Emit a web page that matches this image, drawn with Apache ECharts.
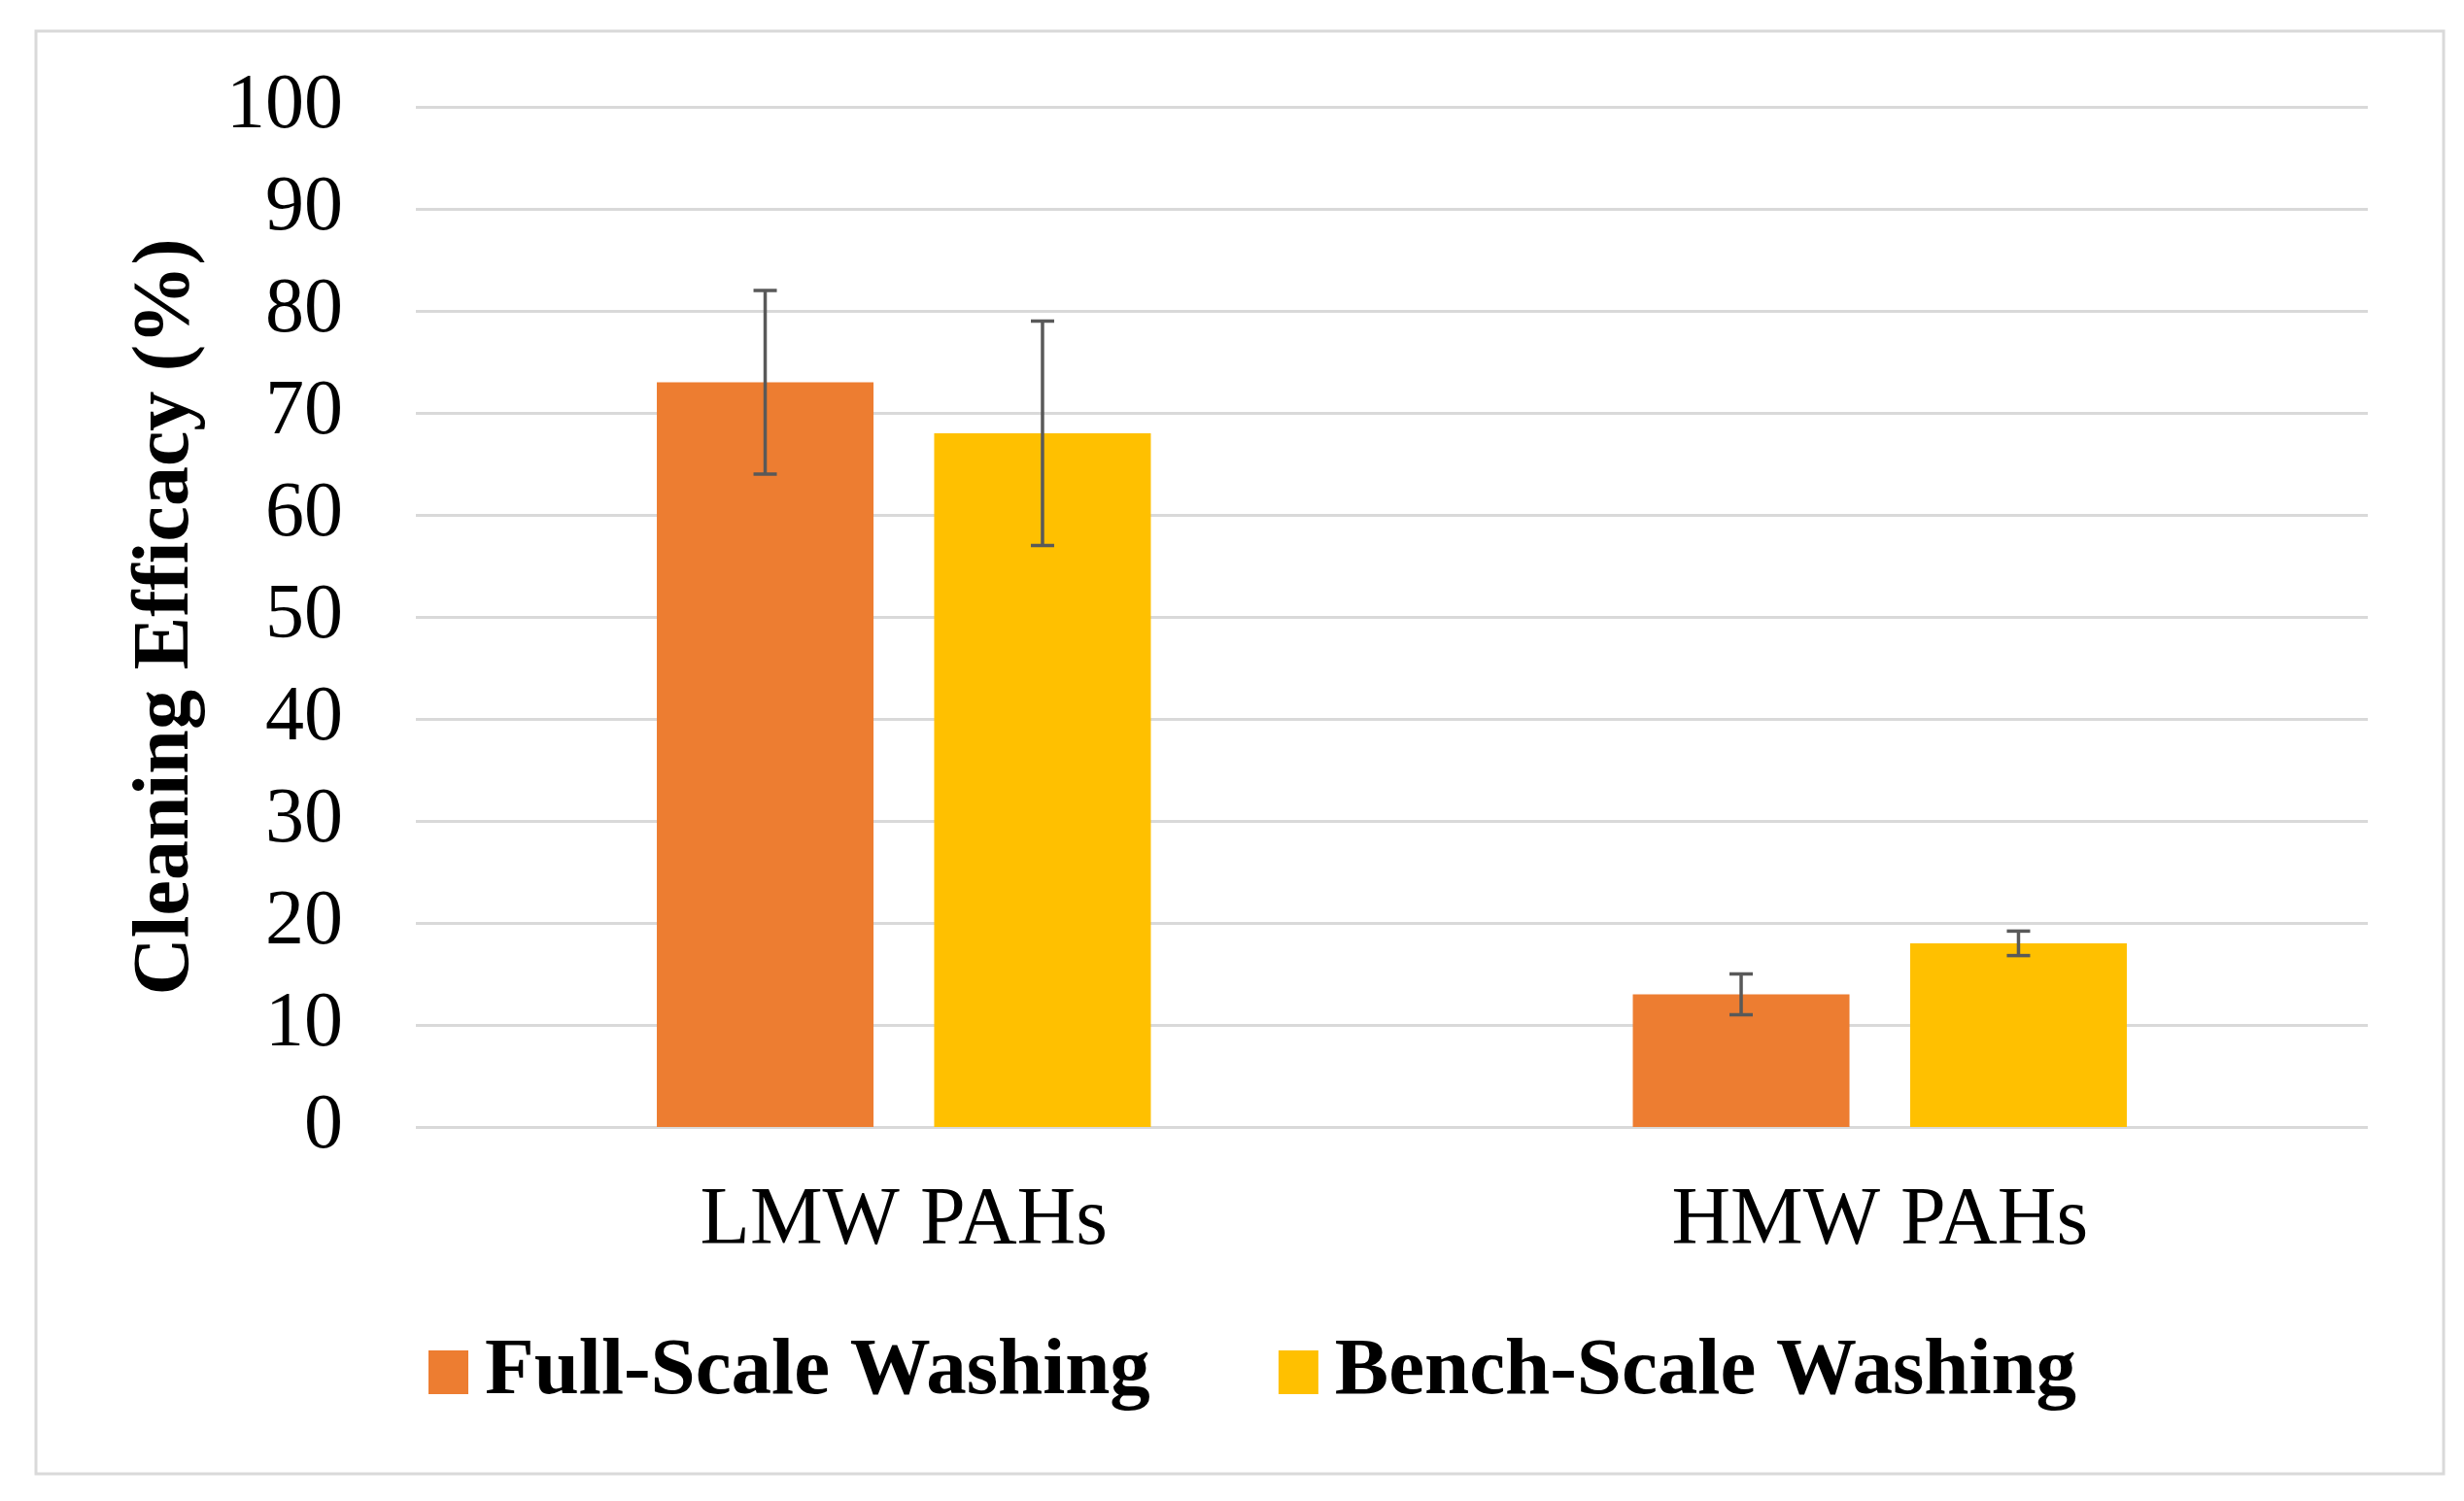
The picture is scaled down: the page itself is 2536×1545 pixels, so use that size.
<!DOCTYPE html>
<html>
<head>
<meta charset="utf-8">
<script src="https://cdn.jsdelivr.net/npm/echarts@6/dist/echarts.min.js"></script>
<style>
html,body{margin:0;padding:0;background:#fff;}
#chart{width:2536px;height:1545px;}
</style>
</head>
<body>
<div id="chart"></div>
<script>
// ---- Data ----
const categories = ['LMW PAHs', 'HMW PAHs'];
const seriesNames = ['Full-Scale Washing', 'Bench-Scale Washing'];
const fullScale = [73, 13];
const benchScale = [68, 18];
const fullScaleErr = [9, 2];
const benchScaleErr = [11, 1.2];
const yMin = 0, yMax = 100, yInterval = 10;

const colors = ['#ED7D31', '#FFC000'];
const FONT = 'Liberation Serif';

const errData = [];
[fullScale, benchScale].forEach((vals, s) => {
  const errs = s === 0 ? fullScaleErr : benchScaleErr;
  vals.forEach((v, i) => errData.push([i, v, errs[i], s]));
});

const chart = echarts.init(document.getElementById('chart'));
chart.setOption({
  animation: false,
  backgroundColor: '#ffffff',
  graphic: [{
    type: 'rect',
    shape: { x: 37, y: 32, width: 2478, height: 1485 },
    style: { fill: 'none', stroke: '#D9D9D9', lineWidth: 3 },
    silent: true
  }],
  grid: { left: 428, right: 99, top: 110, bottom: 385, containLabel: false },
  legend: {
    left: 436,
    top: 1366,
    itemWidth: 41,
    itemHeight: 45,
    itemGap: 132,
    icon: 'rect',
    textStyle: { fontFamily: FONT, fontWeight: 'bold', fontSize: 83, color: '#000', padding: [0, 0, 0, 12] },
    data: seriesNames
  },
  xAxis: {
    type: 'category',
    data: categories,
    axisLine: { show: false },
    axisTick: { show: false },
    axisLabel: { fontFamily: FONT, fontSize: 84, color: '#000', margin: 56 }
  },
  yAxis: {
    type: 'value',
    min: yMin, max: yMax, interval: yInterval,
    name: 'Cleaning Efficacy (%)',
    nameLocation: 'middle',
    nameGap: 215,
    nameTextStyle: { fontFamily: FONT, fontWeight: 'bold', fontSize: 82, color: '#000' },
    axisLine: { show: false },
    axisTick: { show: false },
    axisLabel: { fontFamily: FONT, fontSize: 80, color: '#000', margin: 75 },
    splitLine: { lineStyle: { color: '#D9D9D9', width: 3 } }
  },
  series: [
    { name: seriesNames[0], type: 'bar', data: fullScale, barWidth: '22.2%', barGap: '28%', itemStyle: { color: colors[0] } },
    { name: seriesNames[1], type: 'bar', data: benchScale, barWidth: '22.2%', barGap: '28%', itemStyle: { color: colors[1] } },
    {
      type: 'custom',
      z: 10,
      silent: true,
      data: errData,
      encode: { x: 0, y: 1 },
      renderItem: function (params, api) {
        const cat = api.value(0), v = api.value(1), e = api.value(2), s = api.value(3);
        const band = api.size([1, 0])[0];
        const bw = band * 0.222;
        const off = (s === 0 ? -1 : 1) * (bw * 1.28) / 2;
        const c = api.coord([cat, v]);
        const x = c[0] + off;
        const yt = api.coord([cat, v + e])[1];
        const yb = api.coord([cat, v - e])[1];
        const half = 12;
        const st = { stroke: '#595959', lineWidth: 3.5 };
        return {
          type: 'group',
          children: [
            { type: 'line', shape: { x1: x, y1: yt, x2: x, y2: yb }, style: st },
            { type: 'line', shape: { x1: x - half, y1: yt, x2: x + half, y2: yt }, style: st },
            { type: 'line', shape: { x1: x - half, y1: yb, x2: x + half, y2: yb }, style: st }
          ]
        };
      }
    }
  ]
});
</script>
</body>
</html>
